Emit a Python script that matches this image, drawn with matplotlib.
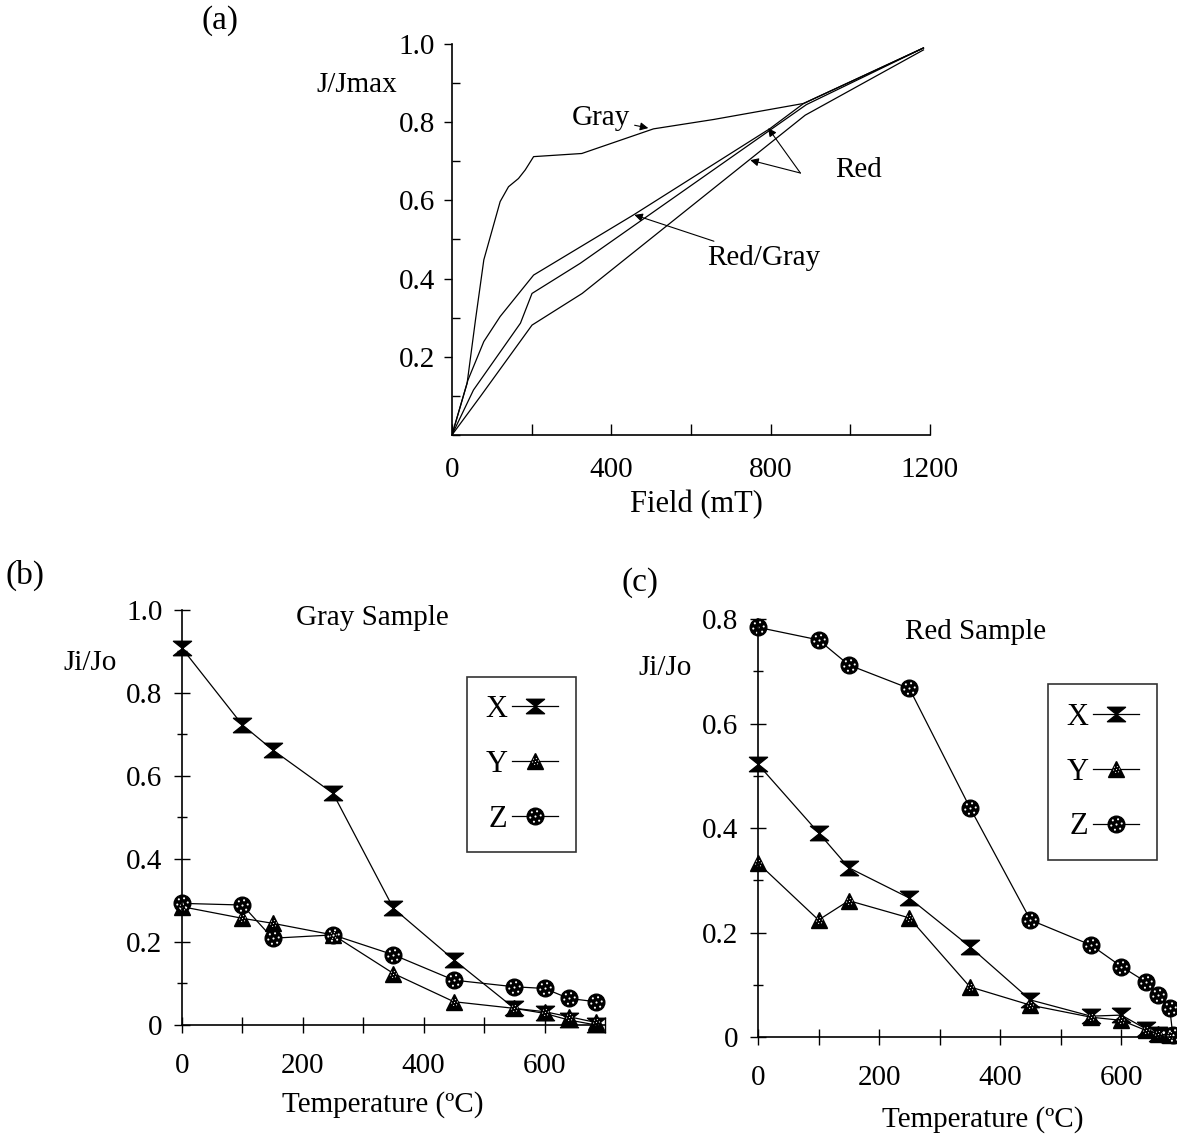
import matplotlib
matplotlib.use("Agg")
import matplotlib.pyplot as plt
from matplotlib.path import Path
from matplotlib.ticker import MultipleLocator, FuncFormatter

plt.rcParams["font.family"] = ["Liberation Serif", "DejaVu Serif"]

# ---- panel (a): normalised magnetisation vs field ----
gray_field = [0, 38, 59, 80, 121, 142, 167, 184, 205, 326, 506, 657, 883, 1184]
gray_j = [0, 0.132, 0.294, 0.448, 0.597, 0.635, 0.656, 0.678, 0.712, 0.720,
          0.783, 0.807, 0.848, 0.99]
redgray_field = [0, 40, 80, 121, 205, 456, 799, 883, 1184]
redgray_j = [0, 0.14, 0.239, 0.303, 0.409, 0.563, 0.784, 0.848, 0.99]
red1_field = [0, 54, 172, 201, 322, 799, 890, 1184]
red1_j = [0, 0.115, 0.286, 0.362, 0.439, 0.78, 0.845, 0.99]
red2_field = [0, 71, 201, 327, 887, 1184]
red2_j = [0, 0.098, 0.281, 0.362, 0.818, 0.985]

# ---- panel (b): gray sample, thermal demag ----
gray_temp = [0, 100, 150, 250, 350, 450, 550, 600, 640, 685]
gray_x = [0.908, 0.723, 0.663, 0.558, 0.281, 0.157, 0.040, 0.028, 0.012, 0.0]
gray_y = [0.285, 0.257, 0.245, 0.217, 0.124, 0.056, 0.040, 0.032, 0.020, 0.006]
gray_z = [0.293, 0.289, 0.209, 0.217, 0.169, 0.108, 0.092, 0.088, 0.064, 0.056]

# ---- panel (c): red sample ----
red_temp_z = [0, 100, 150, 250, 350, 450, 550, 600, 640, 660, 680, 685]
red_z = [0.784, 0.760, 0.712, 0.667, 0.439, 0.224, 0.176, 0.135, 0.106,
         0.081, 0.056, 0.004]
red_temp = [0, 100, 150, 250, 350, 450, 550, 600, 640, 660, 680]
red_x = [0.522, 0.391, 0.324, 0.266, 0.173, 0.071, 0.040, 0.042, 0.016, 0.006, 0.003]
red_y = [0.333, 0.224, 0.261, 0.228, 0.096, 0.061, 0.038, 0.032, 0.013, 0.006, 0.003]

FS = 21

# custom markers: filled hourglass, and a speckle of white dots to lay on top
hourglass = Path([(-1, 0.8), (1, 0.8), (-1, -0.8), (1, -0.8), (-1, 0.8)],
                 [Path.MOVETO, Path.LINETO, Path.LINETO, Path.LINETO, Path.CLOSEPOLY])
dot_pts = [(0, 0), (0.5, 0.1), (-0.5, -0.1), (0.15, 0.5), (-0.15, -0.5),
           (-0.35, 0.4), (0.35, -0.4)]
dots = Path.make_compound_path(*[Path.circle(p, 0.1) for p in dot_pts])

fig = plt.figure(figsize=(11.77, 11.41), dpi=100)

# ---------------- (a) ----------------
ax = fig.add_axes([0.384, 0.6188, 0.406, 0.3426])
for xs, ys in [(gray_field, gray_j), (redgray_field, redgray_j),
               (red1_field, red1_j), (red2_field, red2_j)]:
    ax.plot(xs, ys, color="black", lw=0.9)
ax.set_xlim(0, 1200)
ax.set_ylim(0, 1.0)
for s in ("top", "right"):
    ax.spines[s].set_visible(False)
for s in ("left", "bottom"):
    ax.spines[s].set_linewidth(1.2)
ax.set_xticks([0, 400, 800, 1200])
ax.xaxis.set_minor_locator(MultipleLocator(200))
ax.set_yticks([0.2, 0.4, 0.6, 0.8, 1.0])
ax.set_yticklabels(["0.2", "0.4", "0.6", "0.8", "1.0"])
ax.yaxis.set_minor_locator(MultipleLocator(0.1))
ax.tick_params(axis="both", which="both", direction="in", labelsize=FS,
               width=1.0, length=8, pad=16)
ax.tick_params(axis="y", which="major", direction="out", length=6, pad=6)
ax.tick_params(axis="y", which="minor", length=6)

arrow = dict(arrowstyle="-|>", color="black", lw=0.8, mutation_scale=12,
             shrinkA=0, shrinkB=0)
ax.annotate("Gray", xy=(493, 0.785), xytext=(375, 0.81), fontsize=FS,
            ha="center", va="center", arrowprops=dict(arrow, shrinkA=1))
ax.text(1020, 0.678, "Red", fontsize=FS, ha="center", va="center")
ax.annotate("", xy=(794, 0.785), xytext=(875, 0.67), arrowprops=arrow)
ax.annotate("", xy=(749, 0.703), xytext=(875, 0.67), arrowprops=arrow)
ax.annotate("Red/Gray", xy=(458, 0.563), xytext=(784, 0.453), fontsize=FS,
            ha="center", va="center", arrowprops=dict(arrow, shrinkA=2))

fig.text(0.592, 0.5574, "Field (mT)", fontsize=FS + 1, ha="center", va="center")
fig.text(0.303, 0.9255, "J/Jmax", fontsize=FS, ha="center", va="center")
fig.text(0.187, 0.982, "(a)", fontsize=FS + 3, ha="center", va="center")


def demag_panel(rect, temps, xs, ys, zs, ymax, title, title_pos, tz=None):
    a = fig.add_axes(rect)
    tz = temps if tz is None else tz
    kw = dict(color="black", lw=0.9, mec="black", clip_on=False)
    lx, = a.plot(temps, xs, marker=hourglass, ms=13, mfc="black", **kw)
    ly, = a.plot(temps, ys, marker="^", ms=11, mfc="black", **kw)
    lz, = a.plot(tz, zs, marker="o", ms=12, mfc="black", **kw)
    dy, = a.plot(temps, ys, ls="none", marker=dots, ms=5, mfc="white",
                 mec="none", clip_on=False)
    dz, = a.plot(tz, zs, ls="none", marker=dots, ms=9, mfc="white",
                 mec="none", clip_on=False)
    a.set_ylim(0, ymax)
    for s in ("top", "right"):
        a.spines[s].set_visible(False)
    for s in ("left", "bottom"):
        a.spines[s].set_linewidth(1.2)
    a.set_xticks([0, 200, 400, 600])
    a.xaxis.set_minor_locator(MultipleLocator(100))
    a.yaxis.set_major_locator(MultipleLocator(0.2))
    a.yaxis.set_minor_locator(MultipleLocator(0.1))
    a.yaxis.set_major_formatter(FuncFormatter(lambda v, p: "0" if v == 0 else f"{v:.1f}"))
    a.tick_params(axis="both", which="both", direction="inout", labelsize=FS,
                  width=1.0, length=12, pad=8)
    a.tick_params(axis="y", which="minor", length=7)
    a.tick_params(axis="x", which="major", pad=14)
    a.text(title_pos[0], title_pos[1], title, transform=a.transAxes,
           fontsize=FS, ha="center", va="center")
    return a, [lx, (ly, dy), (lz, dz)]


def legend(a, handles, anchor):
    leg = a.legend(handles, ["X", "Y", "Z"], loc="upper left",
                   bbox_to_anchor=anchor, markerfirst=False,
                   fontsize=FS + 1, frameon=True, fancybox=False,
                   edgecolor="black", handlelength=1.5, labelspacing=0.85,
                   borderpad=0.6, handletextpad=0.15, borderaxespad=0)
    leg.get_frame().set_linewidth(1.2)


# ---------------- (b) ----------------
axb, hb = demag_panel([0.1546, 0.1017, 0.3594, 0.3637], gray_temp, gray_x, gray_y,
                      gray_z, 1.0, "Gray Sample", (0.45, 0.98))
axb.set_xlim(0, 700)
legend(axb, hb, (0.674, 0.839))
fig.text(0.0765, 0.419, "Ji/Jo", fontsize=FS, ha="center", va="center")
fig.text(0.325, 0.0316, "Temperature (ºC)", fontsize=FS, ha="center", va="center")
fig.text(0.021, 0.496, "(b)", fontsize=FS + 3, ha="center", va="center")

# ---------------- (c) ----------------
axc, hc = demag_panel([0.644, 0.0911, 0.356, 0.3664], red_temp, red_x, red_y,
                      red_z, 0.8, "Red Sample", (0.52, 0.97), tz=red_temp_z)
axc.set_xlim(0, 692)
legend(axc, hc, (0.692, 0.844))
fig.text(0.565, 0.4145, "Ji/Jo", fontsize=FS, ha="center", va="center")
fig.text(0.835, 0.0184, "Temperature (ºC)", fontsize=FS, ha="center", va="center")
fig.text(0.544, 0.489, "(c)", fontsize=FS + 3, ha="center", va="center")

fig.savefig("out.png", dpi=100)
